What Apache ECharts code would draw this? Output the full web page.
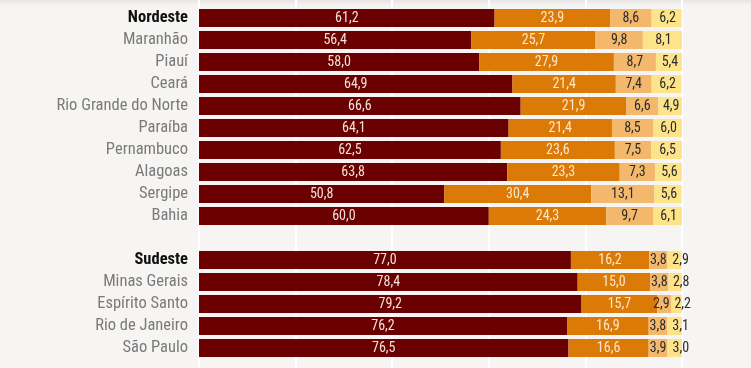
<!DOCTYPE html>
<html>
<head>
<meta charset="utf-8">
<script src="https://cdn.jsdelivr.net/npm/echarts@6/dist/echarts.min.js"></script>
<style>
html,body{margin:0;padding:0;background:#f6f5f3;}
#c{width:751px;height:368px;}
</style>
</head>
<body>
<div id="c"></div>
<script>
const categories = ['Nordeste','Maranhão','Piauí','Ceará','Rio Grande do Norte','Paraíba','Pernambuco','Alagoas','Sergipe','Bahia','','Sudeste','Minas Gerais','Espírito Santo','Rio de Janeiro','São Paulo'];
const regionNames = ['Nordeste','Sudeste'];
const serie1 = [61.2,56.4,58.0,64.9,66.6,64.1,62.5,63.8,50.8,60.0,null,77.0,78.4,79.2,76.2,76.5];
const serie2 = [23.9,25.7,27.9,21.4,21.9,21.4,23.6,23.3,30.4,24.3,null,16.2,15.0,15.7,16.9,16.6];
const serie3 = [8.6,9.8,8.7,7.4,6.6,8.5,7.5,7.3,13.1,9.7,null,3.8,3.8,2.9,3.8,3.9];
const serie4 = [6.2,8.1,5.4,6.2,4.9,6.0,6.5,5.6,5.6,6.1,null,2.9,2.8,2.2,3.1,3.0];
const xTicks = [0,20,40,60,80,100];

const FONT = '"Roboto Condensed","Liberation Sans Narrow",sans-serif';
const colors = ['#6a0000','#dc7a08','#f4b86c','#fde48a'];
const labelColors = ['#f3e1da','#fbe6cc','#2b2b2b','#2b2b2b'];
const seriesData = [serie1, serie2, serie3, serie4];

// small segments: nudge labels so neighbouring labels do not collide
function labelShift(seriesIdx, v) {
  if (v == null) return 0;
  if (seriesIdx === 3) return v < 4 ? 6 : 1;
  if (seriesIdx === 2) return v < 3 ? -3 : 0;
  return 0;
}

const chart = echarts.init(document.getElementById('c'), null, {renderer:'canvas'});

const series = seriesData.map((d, i) => ({
  type: 'bar',
  stack: 'total',
  xAxisIndex: 1,
  yAxisIndex: 1,
  barWidth: 18,
  data: d.map(v => v == null ? null : {value: v, label: {offset: [labelShift(i, v), 0]}}),
  itemStyle: {color: colors[i]},
  label: {
    show: true,
    position: 'inside',
    color: labelColors[i],
    fontFamily: FONT,
    fontSize: 14,
    formatter: p => p.value == null ? '' : p.value.toFixed(1).replace('.', ',')
  }
}));

chart.setOption({
  backgroundColor: '#f6f5f3',
  animation: false,
  graphic: [{
    type: 'rect',
    z: -5,
    silent: true,
    shape: {x: 0, y: 0, width: 751, height: 9},
    style: {
      fill: new echarts.graphic.LinearGradient(0, 0, 0, 1, [
        {offset: 0, color: '#e6e5e3'},
        {offset: 1, color: 'rgba(246,245,243,0)'}
      ])
    }
  }],
  grid: [
    {left: 199, right: 69, top: 0, bottom: 0},
    {left: 199, right: 69, top: 7, bottom: 9}
  ],
  xAxis: [
    {
      gridIndex: 0, type: 'value', min: xTicks[0], max: xTicks[xTicks.length-1], interval: 20,
      axisLine: {show: false}, axisTick: {show: false}, axisLabel: {show: false},
      splitLine: {show: true, lineStyle: {color: '#ffffff', width: 2}}
    },
    {
      gridIndex: 1, type: 'value', min: 0, max: 100,
      axisLine: {show: false}, axisTick: {show: false}, axisLabel: {show: false},
      splitLine: {show: false}
    }
  ],
  yAxis: [
    {gridIndex: 0, type: 'value', show: false, splitLine: {show: false}},
    {
      gridIndex: 1, type: 'category', inverse: true, data: categories,
      axisLine: {show: false}, axisTick: {show: false},
      axisLabel: {
        interval: 0,
        margin: 11,
        fontFamily: FONT,
        fontSize: 16.5,
        formatter: v => regionNames.includes(v) ? '{b|' + v + '}' : '{n|' + v + '}',
        rich: {
          b: {fontFamily: FONT, fontSize: 16.5, fontWeight: 'bold', color: '#111'},
          n: {fontFamily: FONT, fontSize: 16.5, color: '#7a7a7a'}
        }
      }
    }
  ],
  series: series
});
</script>
</body>
</html>
